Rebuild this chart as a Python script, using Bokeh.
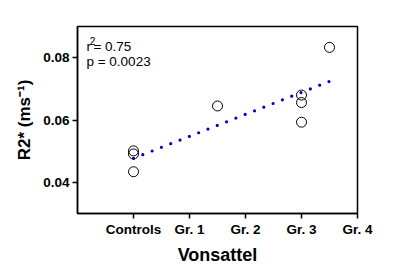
from bokeh.plotting import figure
from bokeh.models import FixedTicker, Label, Range1d
from bokeh.embed import file_html
from bokeh.resources import INLINE

# Data
group_x = [0, 0, 0, 1.5, 3, 3, 3, 3.5]
r2_values = [0.0501, 0.0491, 0.0434, 0.0645, 0.0680, 0.0656, 0.0593, 0.0833]
fit_x = [0, 3.5]
fit_y = [0.0477, 0.0724]
x_ticks = [0, 1, 2, 3, 4]
x_tick_labels = ["Controls", "Gr. 1", "Gr. 2", "Gr. 3", "Gr. 4"]
y_ticks = [0.04, 0.06, 0.08]
y_tick_labels = ["0.04", "0.06", "0.08"]
r2_text = ["r", "2", "= 0.75"]
p_text = "p = 0.0023"
ylabel = "R2* (ms\u207b\u00b9)"
xlabel = "Vonsattel"

FONT = "Liberation Sans"

p = figure(width=400, height=276, output_backend="svg", toolbar_location=None,
           x_range=Range1d(-1, 4), y_range=Range1d(0.03, 0.09))
p.min_border_left = 77
p.min_border_right = 43
p.min_border_top = 26
p.min_border_bottom = 63
p.background_fill_color = "white"
p.border_fill_color = "white"
p.outline_line_color = "black"
p.outline_line_width = 1.5
p.xgrid.visible = False
p.ygrid.visible = False

# regression line (dotted)
p.line(fit_x, fit_y, line_color="#0000CC", line_width=3.2, line_dash="0 10",
       line_cap="round")

# data points
p.scatter(group_x, r2_values, marker="circle", size=10, fill_color=None,
          line_color="black", line_width=1)

for ax in (p.xaxis[0], p.yaxis[0]):
    ax.axis_line_width = 1.5
    ax.axis_line_color = "black"
    ax.major_tick_line_width = 1.5
    ax.major_tick_line_color = "black"
    ax.major_tick_out = 5
    ax.major_tick_in = 0
    ax.minor_tick_line_color = None
    ax.major_label_text_font = FONT
    ax.major_label_text_font_style = "bold"
    ax.major_label_text_font_size = "13.5px"
    ax.major_label_text_color = "black"
    ax.axis_label_text_font = FONT
    ax.axis_label_text_font_style = "bold"
    ax.axis_label_text_color = "black"

p.xaxis.ticker = FixedTicker(ticks=x_ticks)
p.xaxis.major_label_overrides = {t: l for t, l in zip(x_ticks, x_tick_labels)}
p.xaxis.major_label_standoff = 3
p.xaxis.axis_label = xlabel
p.xaxis.axis_label_text_font_size = "18px"
p.xaxis.axis_label_standoff = 5

p.yaxis.ticker = FixedTicker(ticks=y_ticks)
p.yaxis.major_label_overrides = {t: l for t, l in zip(y_ticks, y_tick_labels)}
p.yaxis.major_label_standoff = 3
p.yaxis.axis_label = ylabel
p.yaxis.axis_label_text_font_size = "17px"
p.yaxis.axis_label_standoff = 6

# statistics text
st_x, r_y, p_y = -0.84, 0.08344, 0.07884
p.add_layout(Label(x=st_x, y=r_y, text=r2_text[0], text_font=FONT,
                   text_font_size="13.5px", text_baseline="alphabetic", text_color="black"))
p.add_layout(Label(x=st_x, y=r_y, x_offset=3.4, y_offset=6.2, text=r2_text[1],
                   text_font=FONT, text_font_size="10px", text_baseline="alphabetic",
                   text_color="black"))
p.add_layout(Label(x=st_x, y=r_y, x_offset=7.0, text=r2_text[2], text_font=FONT,
                   text_font_size="13.5px", text_baseline="alphabetic", text_color="black"))
p.add_layout(Label(x=st_x, y=p_y, text=p_text, text_font=FONT,
                   text_font_size="13.5px", text_baseline="alphabetic", text_color="black"))

open("out.html", "w").write(file_html(p, INLINE))
